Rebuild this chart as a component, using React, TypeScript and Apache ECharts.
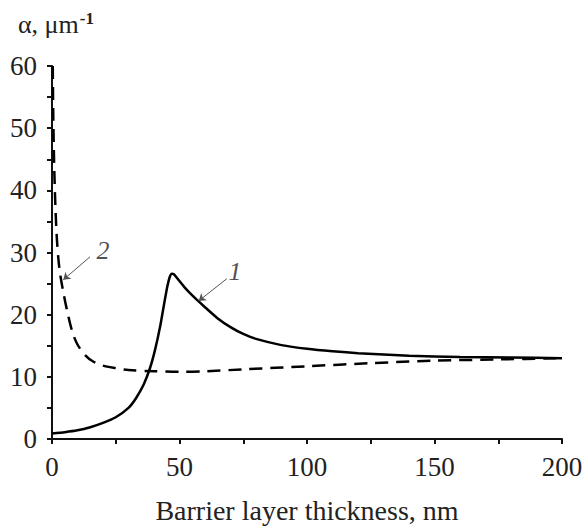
import React, { useEffect, useRef } from "react";
import * as echarts from "echarts";

const xTicks = [0, 50, 100, 150, 200];
const yTicks = [0, 10, 20, 30, 40, 50, 60];

const curve1X = [0, 5, 10, 15, 20, 25, 30, 33, 36, 38.5, 40.5, 42.5, 44, 45.2, 46.2, 47, 47.8, 49, 52, 55, 60, 65, 70, 75, 80, 90, 100, 110, 120, 140, 160, 180, 200];
const curve1Y = [0.9, 1.1, 1.4, 1.9, 2.6, 3.5, 5.0, 6.6, 8.8, 11.5, 14.5, 18.3, 21.8, 24.5, 26.1, 26.6, 26.5, 25.9, 24.4, 23.1, 21.2, 19.4, 18.0, 16.9, 16.1, 15.1, 14.5, 14.1, 13.8, 13.4, 13.2, 13.1, 13.0];

const curve2X = [0.3, 0.5, 0.8, 1.2, 1.8, 2.5, 3.2, 4.5, 6, 8, 10, 13, 16, 20, 25, 30, 40, 50, 60, 75, 100, 125, 150, 175, 200];
const curve2Y = [60, 52, 45, 39, 33, 29, 26.5, 23.5, 20.5, 17.2, 15.2, 13.5, 12.5, 11.8, 11.4, 11.1, 10.9, 10.8, 10.9, 11.2, 11.7, 12.2, 12.6, 12.8, 13.0];

const labelNames = ["1", "2"];
const labelTextAt = [[71.8, 27.0], [20.0, 30.3]];
const arrowFrom = [[68.6, 25.8], [14.9, 29.3]];
const arrowTo = [[57.5, 22.2], [4.4, 25.6]];

const FONT = "'Liberation Serif', 'Times New Roman', serif";

export default function App() {
  const ref = useRef<HTMLDivElement>(null);
  useEffect(() => {
    document.body.style.margin = "0";
    if (!ref.current) return;
    const chart = echarts.init(ref.current, undefined, { renderer: "svg" });
    const d1 = curve1X.map((x, i) => [x, curve1Y[i]]);
    const d2 = curve2X.map((x, i) => [x, curve2Y[i]]);
    const arrows = labelNames.map((_, i) => [
      { coord: arrowFrom[i], symbol: "none" },
      { coord: arrowTo[i], symbol: "arrow" },
    ]);
    const labelPts = labelNames.map((n, i) => ({ value: labelTextAt[i], name: n }));
    chart.setOption({
      animation: false,
      backgroundColor: "#ffffff",
      title: {
        text: "{a|α, μm}{s|-1}",
        left: 13,
        top: 5,
        textStyle: {
          rich: {
            a: { fontFamily: FONT, fontSize: 26, color: "#222", fontWeight: "normal" },
            s: { fontFamily: FONT, fontSize: 17, color: "#222", verticalAlign: "top", padding: [0, 0, 12, 1] },
          },
        },
      },
      grid: { left: 52, right: 26, top: 66, bottom: 87, containLabel: false },
      xAxis: {
        type: "value",
        min: 0,
        max: 200,
        interval: 50,
        name: "Barrier layer thickness, nm",
        nameLocation: "middle",
        nameGap: 71,
        nameTextStyle: { fontFamily: FONT, fontSize: 28, color: "#222", verticalAlign: "middle" },
        axisLine: { show: true, onZero: false, lineStyle: { color: "#111", width: 2 } },
        axisTick: { show: true, inside: false, length: 5, lineStyle: { color: "#111", width: 2 } },
        minorTick: { show: true, splitNumber: 2, length: 5, lineStyle: { color: "#111", width: 2 } },
        axisLabel: { fontFamily: FONT, fontSize: 27, color: "#222", margin: 14 },
        splitLine: { show: false },
      },
      yAxis: {
        type: "value",
        min: 0,
        max: 60,
        interval: 10,
        axisLine: { show: true, lineStyle: { color: "#111", width: 2 } },
        axisTick: { show: true, inside: false, length: 5, lineStyle: { color: "#111", width: 2 } },
        minorTick: { show: true, splitNumber: 2, length: 5, lineStyle: { color: "#111", width: 2 } },
        axisLabel: { fontFamily: FONT, fontSize: 27, color: "#222", margin: 15 },
        splitLine: { show: false },
      },
      series: [
        {
          type: "line",
          data: d1,
          showSymbol: false,
          smooth: 0.2,
          lineStyle: { color: "#000", width: 2.5 },
          markLine: {
            silent: true,
            symbol: ["none", "arrow"],
            symbolSize: 7,
            lineStyle: { color: "#555", width: 1, type: "solid" },
            label: { show: false },
            data: arrows,
          },
        },
        {
          type: "line",
          data: d2,
          showSymbol: false,
          smooth: 0.3,
          clip: true,
          lineStyle: { color: "#000", width: 2.5, type: [13, 8] },
        },
        {
          type: "scatter",
          data: labelPts,
          symbolSize: 0,
          silent: true,
          label: {
            show: true,
            position: "inside",
            formatter: (p: any) => p.name,
            fontFamily: FONT,
            fontStyle: "italic",
            fontSize: 26,
            color: "#222",
          },
        },
      ],
    });
    return () => chart.dispose();
  }, []);
  return <div ref={ref} style={{ width: 588, height: 529 }} />;
}
